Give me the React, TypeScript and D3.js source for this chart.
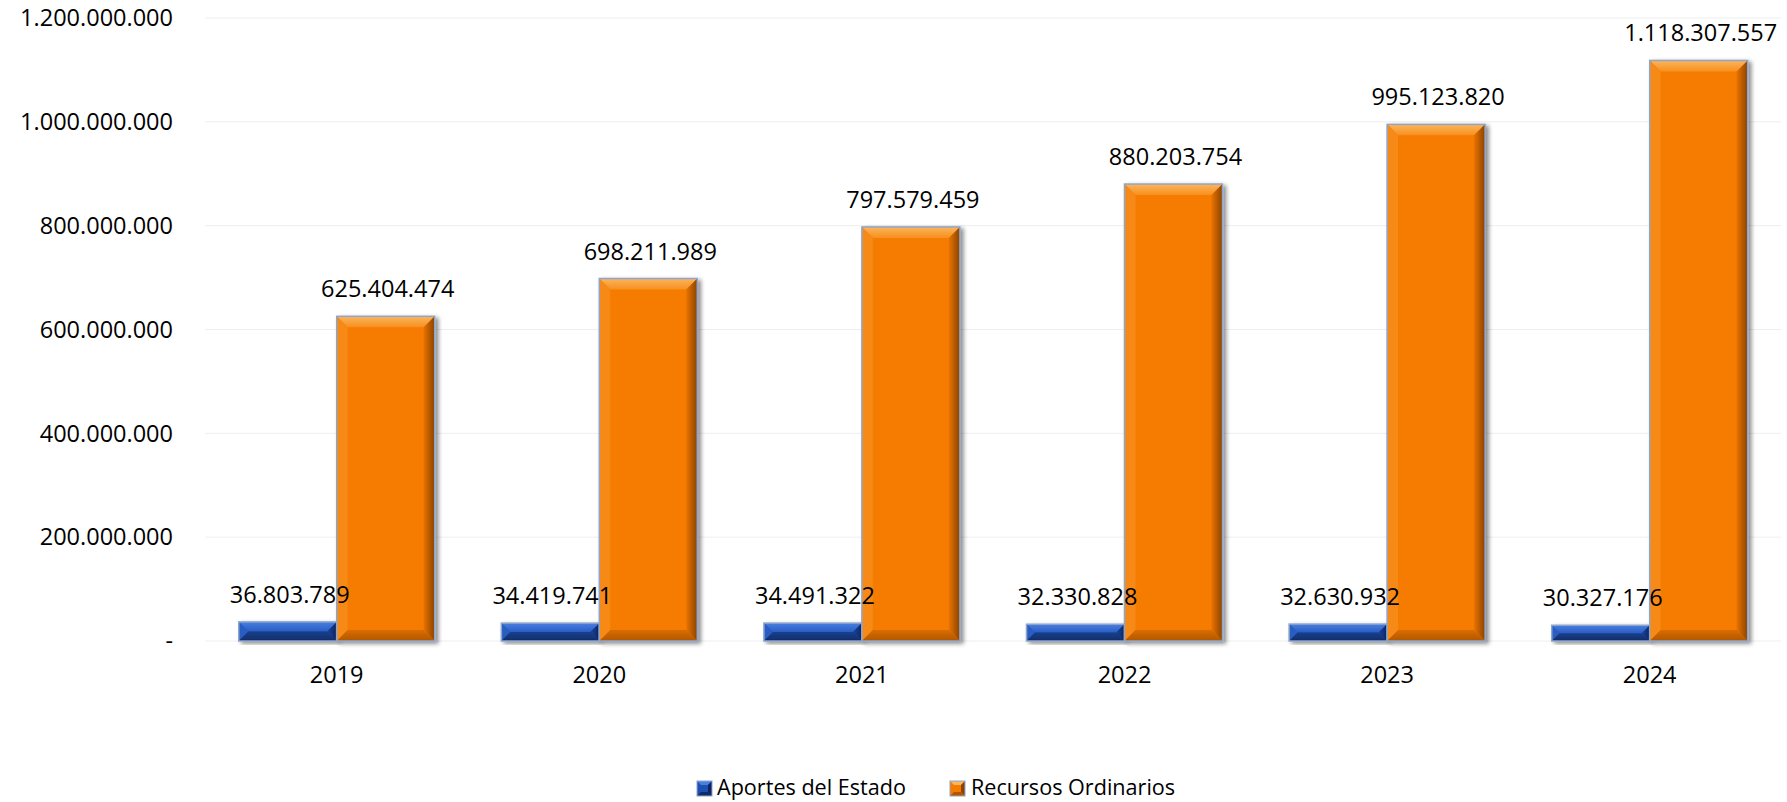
import React from "react";
import * as d3 from "d3";

const years = ["2019", "2020", "2021", "2022", "2023", "2024"];
const aportesEstado = [36803789, 34419741, 34491322, 32330828, 32630932, 30327176];
const recursosOrdinarios = [625404474, 698211989, 797579459, 880203754, 995123820, 1118307557];
const seriesNames = ["Aportes del Estado", "Recursos Ordinarios"];
const yTicks = [0, 200000000, 400000000, 600000000, 800000000, 1000000000, 1200000000];

const W = 1787;
const H = 802;
const FONT = "'Open Sans', sans-serif";

const locale = d3.formatLocale({ decimal: ",", thousands: ".", grouping: [3], currency: ["", ""] });
const fmt = locale.format(",d");

const palettes = [
  { id: "b", main: "#1E4FB2", topA: "#4A7EE0", topB: "#2A5DC4", left: "#2A5DC2", rightA: "#1A449C", rightB: "#0C2560", botA: "#18408E", botB: "#102C66", stroke: "#8FA6CC" },
  { id: "o", main: "#F57B00", topA: "#FBB55E", topB: "#F7901E", left: "#F78A14", rightA: "#E87200", rightB: "#8A4300", botA: "#DA6C00", botB: "#B05700", stroke: "#8FA6CC" },
];

function Bar({ x, y, w, h, p }: any) {
  const b = Math.min(11, h / 2, w / 2);
  const pts = (a: number[][]) => a.map((q) => q.join(",")).join(" ");
  return (
    <g filter="url(#shadow)">
      <rect x={x} y={y} width={w} height={h} fill={p.main} />
      <polygon points={pts([[x, y], [x + w, y], [x + w - b, y + b], [x + b, y + b]])} fill={`url(#top-${p.id})`} />
      <polygon points={pts([[x, y], [x + b, y + b], [x + b, y + h - b], [x, y + h]])} fill={p.left} />
      <polygon points={pts([[x + w, y], [x + w, y + h], [x + w - b, y + h - b], [x + w - b, y + b]])} fill={`url(#right-${p.id})`} />
      <polygon points={pts([[x, y + h], [x + b, y + h - b], [x + w - b, y + h - b], [x + w, y + h]])} fill={`url(#bot-${p.id})`} />
      <rect x={x} y={y} width={w} height={h} fill="none" stroke={p.stroke} strokeWidth={1.5} />
    </g>
  );
}

export default function App() {
  const left = 205.4;
  const right = 1781;
  const y0 = 641;
  const yTop = 18;
  const x = d3.scaleBand<string>().domain(years).range([left, right]).paddingInner(0).paddingOuter(0);
  const xs = d3.scaleBand<string>().domain(seriesNames).range([0, x.bandwidth()]).paddingInner(0).paddingOuter(0.34);
  const y = d3.scaleLinear().domain([0, 1200000000]).range([y0, yTop]);
  const series = [aportesEstado, recursosOrdinarios];

  return (
    <svg width={W} height={H} style={{ position: "absolute", left: 0, top: 0, background: "#fff" }} fontFamily={FONT}>
      <defs>
        <filter id="shadow" x="-20%" y="-20%" width="140%" height="140%">
          <feDropShadow dx="3" dy="2" stdDeviation="2" floodColor="#000" floodOpacity="0.45" />
        </filter>
        {palettes.map((p) => (
          <React.Fragment key={p.id}>
            <linearGradient id={`top-${p.id}`} x1="0" y1="0" x2="0" y2="1">
              <stop offset="0" stopColor={p.topA} />
              <stop offset="1" stopColor={p.topB} />
            </linearGradient>
            <linearGradient id={`right-${p.id}`} x1="0" y1="0" x2="1" y2="0">
              <stop offset="0" stopColor={p.rightA} />
              <stop offset="1" stopColor={p.rightB} />
            </linearGradient>
            <linearGradient id={`bot-${p.id}`} x1="0" y1="0" x2="0" y2="1">
              <stop offset="0" stopColor={p.botA} />
              <stop offset="1" stopColor={p.botB} />
            </linearGradient>
          </React.Fragment>
        ))}
      </defs>
      {yTicks.map((t) => (
        <g key={t}>
          <line x1={left} x2={right} y1={y(t)} y2={y(t)} stroke="#EEEEEE" strokeWidth={1} />
          <text x={173} y={y(t)} dy="0.35em" textAnchor="end" fontSize={23.5} fill="#000">
            {t === 0 ? "-" : fmt(t)}
          </text>
        </g>
      ))}
      {years.map((yr, i) => (
        <g key={yr}>
          {series.map((s, k) => {
            const bx = (x(yr) as number) + (xs(seriesNames[k]) as number);
            const bw = xs.bandwidth();
            const by = y(s[i]);
            return <Bar key={k} x={bx} y={by} w={bw} h={y0 - by} p={palettes[k]} />;
          })}
        </g>
      ))}
      {years.map((yr, i) => (
        <g key={"l" + yr}>
          {series.map((s, k) => {
            const bx = (x(yr) as number) + (xs(seriesNames[k]) as number);
            const bw = xs.bandwidth();
            return (
              <text key={k} x={bx + bw / 2 + 2} y={y(s[i]) - 19} textAnchor="middle" fontSize={23.5} fill="#000">
                {fmt(s[i])}
              </text>
            );
          })}
          <text x={(x(yr) as number) + x.bandwidth() / 2} y={683} textAnchor="middle" fontSize={23.5} fill="#000">
            {yr}
          </text>
        </g>
      ))}
      {[
        { mx: 697, tx: 717 },
        { mx: 950, tx: 971 },
      ].map((l, k) => {
        const p = palettes[k];
        const s = 15;
        const my = 781;
        const b = 4;
        const pts = (a: number[][]) => a.map((q) => q.join(",")).join(" ");
        return (
          <g key={k}>
            <rect x={l.mx} y={my} width={s} height={s} fill={p.main} />
            <polygon points={pts([[l.mx, my], [l.mx + s, my], [l.mx + s - b, my + b], [l.mx + b, my + b]])} fill={p.topA} />
            <polygon points={pts([[l.mx + s, my], [l.mx + s, my + s], [l.mx + s - b, my + s - b], [l.mx + s - b, my + b]])} fill={p.rightB} />
            <polygon points={pts([[l.mx, my + s], [l.mx + b, my + s - b], [l.mx + s - b, my + s - b], [l.mx + s, my + s]])} fill={p.botB} />
            <rect x={l.mx} y={my} width={s} height={s} fill="none" stroke={p.stroke} strokeWidth={1} />
            <text x={l.tx} y={795} fontSize={21.6} fill="#000">
              {seriesNames[k]}
            </text>
          </g>
        );
      })}
    </svg>
  );
}
